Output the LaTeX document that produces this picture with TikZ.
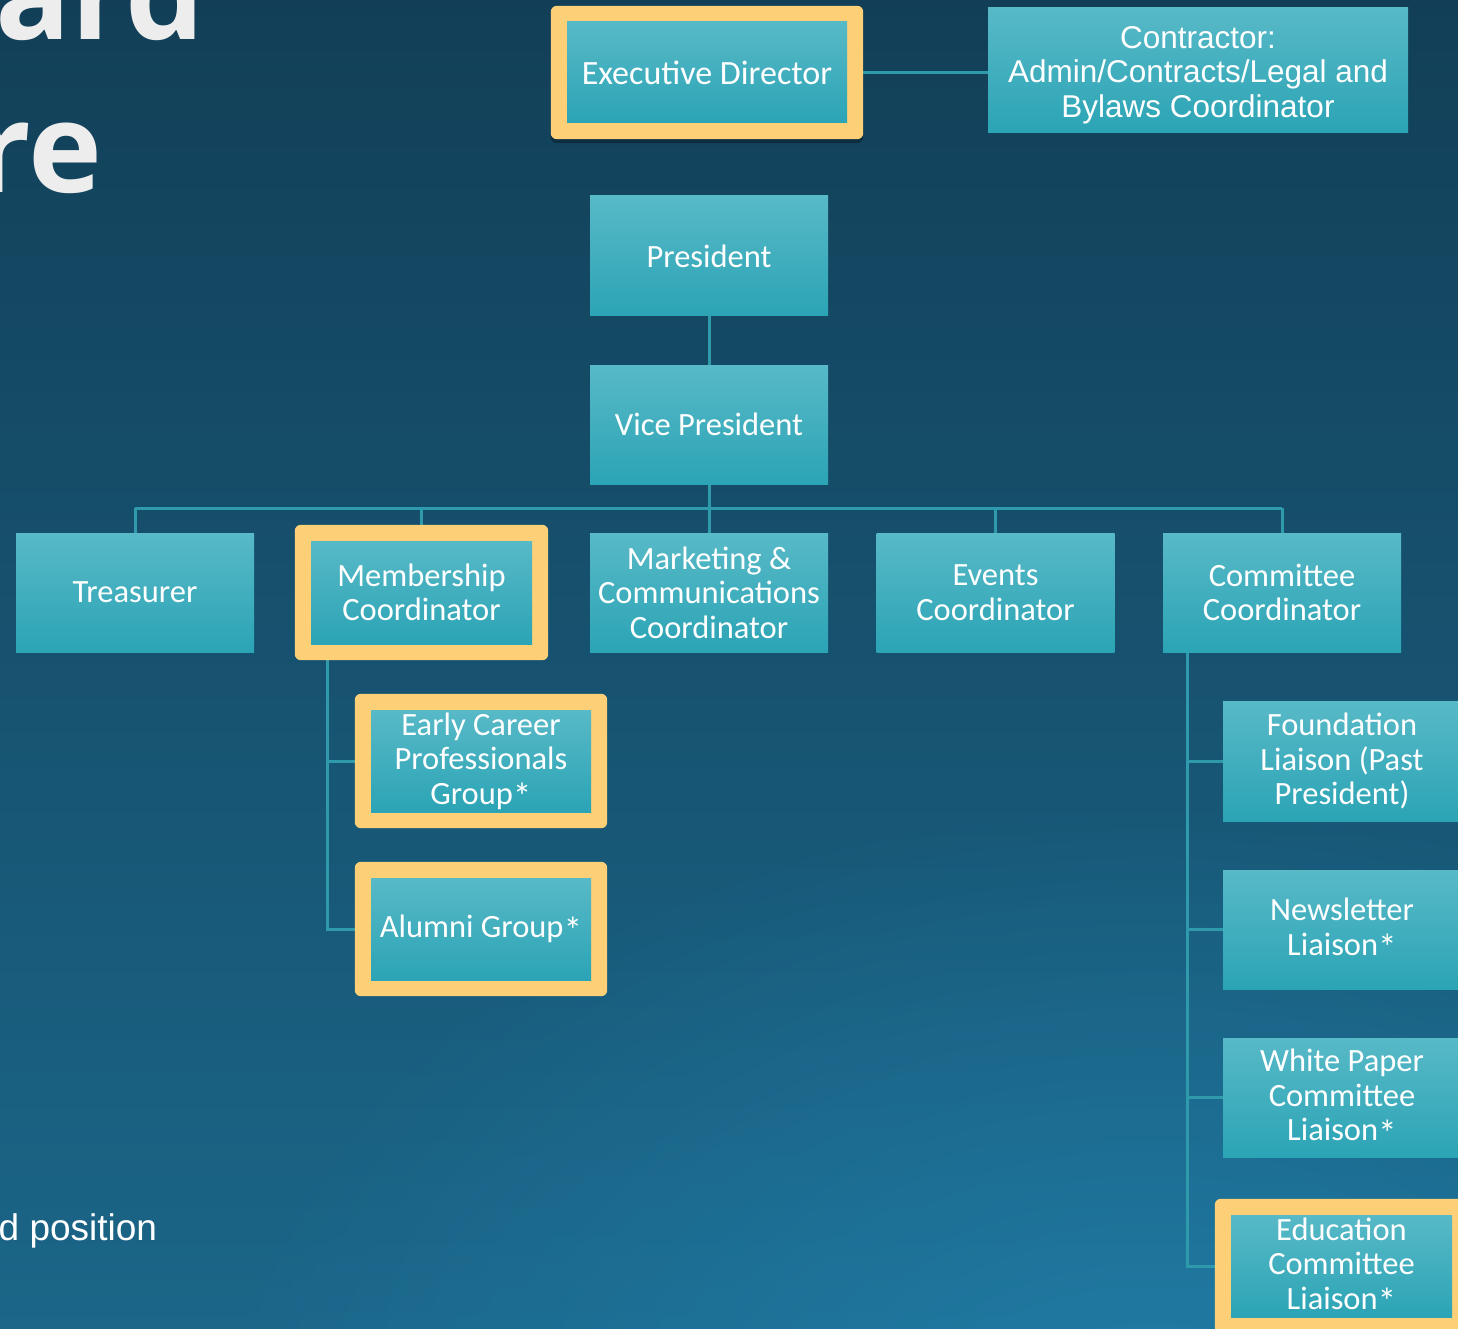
\documentclass[tikz,border=0pt]{standalone}
\usepackage{fontspec}
\setmainfont{Carlito}
\newfontfamily\arialf{Liberation Sans}
\newfontfamily\titlef{Open Sans}
\usetikzlibrary{fit,shadows,fadings}
\definecolor{bgtop}{HTML}{123F57}
\definecolor{bgbot}{HTML}{1B6689}
\definecolor{glow}{HTML}{2386B2}
\definecolor{boxtop}{HTML}{58B9C7}
\definecolor{boxbot}{HTML}{2BA4B5}
\definecolor{gold}{HTML}{FDCF76}
\definecolor{linec}{HTML}{2E9AAB}
\definecolor{titlec}{HTML}{EDEDED}
\newcommand\astr{\raisebox{-0.35ex}{\scalebox{1.15}{*}}}
\pgfdeclarelayer{bglayer}
\pgfdeclarelayer{linelayer}
\pgfdeclarelayer{framelayer}
\pgfsetlayers{bglayer,linelayer,framelayer,main}
\tikzfading[name=glowfade, inner color=transparent!30, outer color=transparent!100]
\begin{document}
\begin{tikzpicture}[x=1pt,y=-1pt,
  box/.style={top color=boxtop, bottom color=boxbot, draw=none, text=white, align=center, inner sep=0pt,
    minimum width=238pt, minimum height=119pt, font=\fontsize{32.5}{34.5}\selectfont},
  goldframe/.style={fill=gold, rounded corners=6pt, inner sep=16pt},
  conn/.style={draw=linec, line width=3pt},
]
\useasboundingbox (0,0) rectangle (1458,1329);
\begin{pgfonlayer}{bglayer}
  \shade[top color=bgtop, bottom color=bgbot] (0,0) rectangle (1458,1329);
  \fill[glow, path fading=glowfade] (1150,1450) ellipse (950pt and 650pt);
\end{pgfonlayer}

% title fragments
\node[anchor=base east, inner sep=0pt, text=titlec, font=\titlef\bfseries\fontsize{125}{125}\selectfont] (t1) at (205,40) {ard};
\node[anchor=base east, inner sep=0pt, text=titlec, font=\titlef\bfseries\fontsize{125}{125}\selectfont] (t2) at (103,193) {re};
\node[anchor=base west, inner sep=0pt, text=white, font=\arialf\fontsize{37}{40}\selectfont] (pos) at (-1.5,1240) {d position};

% boxes
\node[box, minimum width=280pt, minimum height=101pt, font=\fontsize{34}{36}\selectfont] (ed) at (707,72.5) {Executive Director};
\node[box, minimum width=420pt, minimum height=125pt, font=\arialf\fontsize{31.5}{34.5}\selectfont] (con) at (1198,70.5) {\rule{0pt}{31pt}Contractor:\\Admin/Contracts/Legal and\\Bylaws Coordinator};
\node[box, minimum height=120pt] (pres) at (709,256) {President};
\node[box] (vp) at (709,424.5) {Vice President};
\node[box] (tre) at (135,592.5) {Treasurer};
\node[box, minimum width=221pt, minimum height=103pt] (mem) at (421.5,592.5) {Membership\\Coordinator};
\node[box] (mkt) at (709,592.5) {Marketing \&\\Communications\\Coordinator};
\node[box] (evt) at (995.5,592.5) {Events\\Coordinator};
\node[box] (com) at (1282,592.5) {Committee\\Coordinator};
\node[box, minimum width=220pt, minimum height=102pt] (ecp) at (481,761) {Early Career\\Professionals\\Group\astr};
\node[box, minimum width=220pt, minimum height=102pt] (alu) at (481,929) {Alumni Group\astr};
\node[box, minimum height=120pt] (fnd) at (1342,761) {Foundation\\Liaison (Past\\President)};
\node[box] (nws) at (1342,929.5) {Newsletter\\Liaison\astr};
\node[box] (wp) at (1342,1097.5) {White Paper\\Committee\\Liaison\astr};
\node[box, minimum width=221pt, minimum height=102pt] (edu) at (1341.5,1266) {Education\\Committee\\Liaison\astr};

% gold frames
\begin{pgfonlayer}{framelayer}
  \node[goldframe, fit=(ed), drop shadow={shadow xshift=0pt, shadow yshift=-4pt, opacity=0.3, fill=black}] (edf) {};
  \node[goldframe, fit=(mem)] (memf) {};
  \node[goldframe, fit=(ecp)] (ecpf) {};
  \node[goldframe, fit=(alu)] (aluf) {};
  \node[goldframe, fit=(edu)] (eduf) {};
\end{pgfonlayer}

% connectors
\begin{pgfonlayer}{linelayer}
  \coordinate (bus) at (709,508);
  \coordinate (mtrunk) at (327,659);
  \coordinate (ctrunk) at (1187,652);
  \draw[conn] (edf.east) -- (edf.east -| con.west);
  \draw[conn] (pres.south) -- (vp.north);
  \draw[conn] (vp.south) -- (bus);
  \draw[conn] (bus -| tre.north) -- (bus -| com.north);
  \draw[conn] (bus -| tre.north) -- (tre.north);
  \draw[conn] (bus -| mem.north) -- (memf.north);
  \draw[conn] (bus -| mkt.north) -- (mkt.north);
  \draw[conn] (bus -| evt.north) -- (evt.north);
  \draw[conn] (bus -| com.north) -- (com.north);
  \draw[conn] (mtrunk) |- (ecpf.west);
  \draw[conn] (mtrunk) |- (aluf.west);
  \draw[conn] (ctrunk) |- (fnd.west);
  \draw[conn] (ctrunk) |- (nws.west);
  \draw[conn] (ctrunk) |- (wp.west);
  \draw[conn] (ctrunk) |- (eduf.west);
\end{pgfonlayer}
\end{tikzpicture}
\end{document}
